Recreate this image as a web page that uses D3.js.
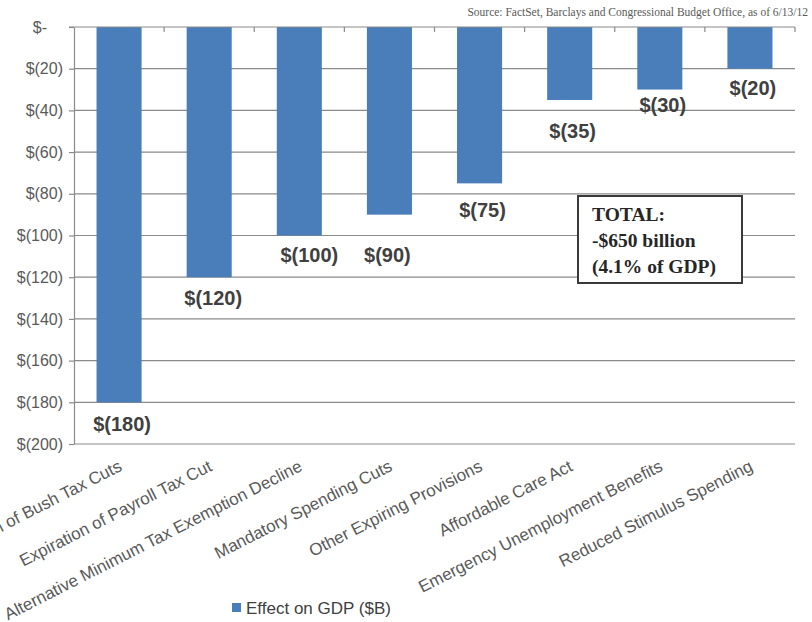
<!DOCTYPE html>
<html>
<head>
<meta charset="utf-8">
<script src="https://cdn.jsdelivr.net/npm/d3@7"></script>
<style>
  html, body { margin: 0; padding: 0; background: #fff; }
  svg { display: block; }
</style>
</head>
<body>
<svg id="chart" width="812" height="622"></svg>
<script>
const categories = [
  "Expiration of Bush Tax Cuts",
  "Expiration of Payroll Tax Cut",
  "Alternative Minimum Tax Exemption Decline",
  "Mandatory Spending Cuts",
  "Other Expiring Provisions",
  "Affordable Care Act",
  "Emergency Unemployment Benefits",
  "Reduced Stimulus Spending"
];
const values = [-180, -120, -100, -90, -75, -35, -30, -20];
const yTicks = [0, -20, -40, -60, -80, -100, -120, -140, -160, -180, -200];
const seriesName = "Effect on GDP ($B)";
const sourceText = "Source: FactSet, Barclays and Congressional Budget Office, as of 6/13/12";
const totalLines = ["TOTAL:", "-$650 billion", "(4.1% of GDP)"];

// layout-only: manual label offsets (px) as placed in the original
const labelDy = [21, 21, 19, 40, 26, 31, 15, 19];
const labelDx = [3, 4, 10, -2, 3, 3, 3, 3];

const svg = d3.select("#chart");
const m = { left: 74, right: 795, top: 27, bottom: 444 };

const x = d3.scaleBand().domain(categories).range([m.left, m.right])
  .paddingInner(0.5).paddingOuter(0.25);
const y = d3.scaleLinear().domain([0, -200]).range([m.top, m.bottom]);

const fmt = v => v === 0 ? "$-" : "$(" + Math.abs(v) + ")";
const gray = "#8a8a8a";

// gridlines
svg.append("g").selectAll("line").data(yTicks.filter(d => d !== 0)).join("line")
  .attr("x1", m.left).attr("x2", m.right)
  .attr("y1", d => y(d)).attr("y2", d => y(d))
  .attr("stroke", gray).attr("stroke-width", 1.2);

// bars
svg.append("g").selectAll("rect").data(values).join("rect")
  .attr("x", (d, i) => x(categories[i]))
  .attr("y", y(0))
  .attr("width", x.bandwidth())
  .attr("height", d => y(d) - y(0))
  .attr("fill", "#4a7ebb");

// y axis
const yAxis = svg.append("g").attr("transform", `translate(${m.left},0)`)
  .call(d3.axisLeft(y).tickValues(yTicks).tickFormat(fmt).tickSize(5).tickSizeOuter(0));
yAxis.select(".domain").attr("stroke", gray).attr("stroke-width", 1.2);
yAxis.selectAll(".tick line").attr("stroke", gray).attr("stroke-width", 1.2);
yAxis.selectAll(".tick text")
  .attr("font-family", "Liberation Sans, Arial, sans-serif")
  .attr("font-size", 16).attr("fill", "#595959")
  .attr("x", -11)
  .attr("dx", d => d === 0 ? -16 : 0);

// top category axis line with inward ticks at band boundaries
const boundaries = d3.range(categories.length + 1).map(i => m.left + i * x.step());
svg.append("line").attr("x1", m.left - 5).attr("x2", m.right)
  .attr("y1", y(0)).attr("y2", y(0)).attr("stroke", gray).attr("stroke-width", 1.2);
svg.append("g").selectAll("line").data(boundaries.slice(1)).join("line")
  .attr("x1", d => d).attr("x2", d => d)
  .attr("y1", y(0)).attr("y2", y(0) + 5)
  .attr("stroke", gray).attr("stroke-width", 1.2);

// category labels, rotated
svg.append("g").selectAll("text").data(categories).join("text")
  .attr("transform", d => `translate(${x(d) + x.bandwidth() / 2 + 4},${m.bottom + 26}) rotate(-27)`)
  .attr("text-anchor", "end")
  .attr("font-family", "Liberation Sans, Arial, sans-serif")
  .attr("font-size", 17).attr("fill", "#595959")
  .text(d => d);

// data labels
svg.append("g").selectAll("text").data(values).join("text")
  .attr("x", (d, i) => x(categories[i]) + x.bandwidth() / 2 + labelDx[i])
  .attr("y", (d, i) => y(d) + labelDy[i])
  .attr("dy", "0.36em")
  .attr("text-anchor", "middle")
  .attr("font-family", "Liberation Sans, Arial, sans-serif")
  .attr("font-weight", "bold")
  .attr("font-size", 20).attr("fill", "#404040")
  .text(d => fmt(d));

// source
svg.append("text").attr("x", 808).attr("y", 16).attr("text-anchor", "end")
  .attr("font-family", "Liberation Serif, serif").attr("font-size", 11.5)
  .attr("fill", "#595959").text(sourceText);

// total box
const box = svg.append("g");
box.append("rect").attr("x", 578).attr("y", 196).attr("width", 164).attr("height", 87)
  .attr("fill", "#fff").attr("stroke", "#3a3a3a").attr("stroke-width", 2);
box.selectAll("text").data(totalLines).join("text")
  .attr("x", 592).attr("y", (d, i) => 221 + i * 26)
  .attr("font-family", "Liberation Serif, serif").attr("font-weight", "bold")
  .attr("font-size", 19.5).attr("fill", "#262626")
  .text(d => d);

// legend
const lg = svg.append("g").attr("transform", "translate(232,603)");
lg.append("rect").attr("width", 9).attr("height", 9).attr("fill", "#4a7ebb");
lg.append("text").attr("x", 14).attr("y", 4.5).attr("dy", "0.36em")
  .attr("font-family", "Liberation Sans, Arial, sans-serif")
  .attr("font-size", 17).attr("fill", "#404040").text(seriesName);
</script>
</body>
</html>
